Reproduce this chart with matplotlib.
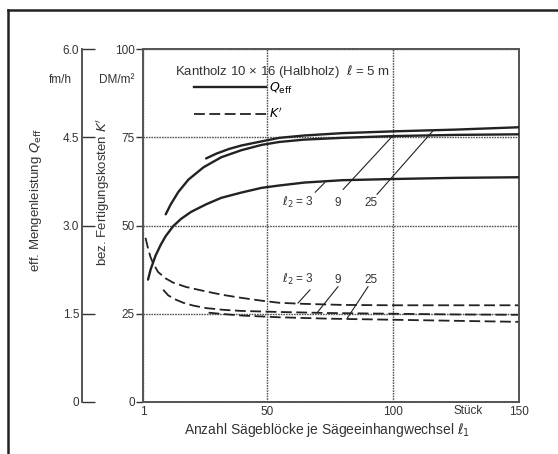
import matplotlib
matplotlib.use("Agg")
import matplotlib.pyplot as plt
from matplotlib.lines import Line2D

plt.rcParams["font.family"] = ["Liberation Sans", "DejaVu Sans"]
plt.rcParams["mathtext.fontset"] = "dejavusans"

# Q_eff (fm/h) je l2, über l1
q3_x = [3, 4, 6, 8, 10, 13, 16, 20, 26, 32, 40, 48, 55, 65, 80, 100, 125, 150]
q3_y = [2.08, 2.25, 2.49, 2.67, 2.82, 2.99, 3.11, 3.23, 3.36, 3.47, 3.56, 3.64,
        3.68, 3.73, 3.77, 3.79, 3.81, 3.82]
q9_x = [10, 12, 15, 19, 25, 32, 40, 48, 55, 65, 80, 100, 125, 150]
q9_y = [3.19, 3.36, 3.57, 3.78, 3.99, 4.16, 4.28, 4.37, 4.42, 4.46, 4.49, 4.52, 4.54, 4.55]
q25_x = [26, 30, 35, 40, 48, 55, 65, 80, 100, 125, 150]
q25_y = [4.14, 4.22, 4.30, 4.36, 4.43, 4.49, 4.53, 4.57, 4.60, 4.63, 4.67]

# K' (DM/m²) je l2
k3_x = [2, 3, 4, 5, 7, 10, 13, 18, 26, 33, 40, 48, 55, 65, 80, 100, 150]
k3_y = [46.5, 43.5, 41.0, 39.3, 36.8, 35.0, 33.8, 32.6, 31.3, 30.3, 29.5, 28.7,
        28.1, 27.8, 27.5, 27.4, 27.4]
k9_x = [9, 11, 14, 17, 21, 26, 33, 40, 55, 75, 100, 125, 150]
k9_y = [31.8, 30.2, 29.0, 28.1, 27.3, 26.6, 26.1, 25.8, 25.5, 25.2, 25.0, 24.8, 24.7]
k25_x = [27, 33, 40, 55, 75, 100, 125, 150]
k25_y = [25.3, 24.9, 24.5, 24.0, 23.6, 23.3, 23.0, 22.7]

x_ticks = [1, 50, 100, 150]
k_ticks = [0, 25, 50, 75, 100]
q_ticks = [0, 1.5, 3.0, 4.5, 6.0]
q_labels = ["0", "1.5", "3.0", "4.5", "6.0"]

INK = "#222222"
GRID = "#555555"
TXT = "#333333"
DOT = (0, (1.2, 0.7))

fig = plt.figure(figsize=(5.58, 4.54), dpi=100)
ax = fig.add_axes([143 / 558, 1 - 402 / 454, 376 / 558, 353 / 454])
ax.set_xlim(1, 150)
ax.set_ylim(0, 100)
ax.set_xticks(x_ticks)
ax.set_yticks(k_ticks)
ax.tick_params(axis="x", length=0, pad=3, labelsize=8.5, colors=TXT)
ax.tick_params(axis="y", length=5, width=1, pad=1, labelsize=8.5, colors=TXT)
for s in ax.spines.values():
    s.set_color(GRID); s.set_linestyle(DOT); s.set_linewidth(1.4)
ax.grid(True, color=GRID, ls=DOT, lw=1.0)
ax.text(130, -0.009, "Stück", transform=ax.get_xaxis_transform(),
        ha="center", va="top", fontsize=8.5, color=TXT)

ax2 = ax.twinx()
ax2.set_ylim(0, 6)
ax2.set_yticks(q_ticks, labels=q_labels)
for k in ["right", "top", "bottom"]:
    ax2.spines[k].set_visible(False)
ax2.spines["left"].set_visible(True)
ax2.spines["left"].set_position(("axes", (82 - 143) / 376))
ax2.spines["left"].set_color(GRID); ax2.spines["left"].set_linestyle(DOT)
ax2.spines["left"].set_linewidth(1.4)
ax2.yaxis.tick_left()
ax2.yaxis.set_label_position("left")
ax2.tick_params(axis="y", direction="in", length=9, width=1, pad=2,
                labelsize=8.5, colors=TXT)

# Kurven
for xs, ys in [(q3_x, q3_y), (q9_x, q9_y), (q25_x, q25_y)]:
    ax2.plot(xs, ys, color=INK, lw=1.7, solid_capstyle="round", solid_joinstyle="round")
for xs, ys in [(k3_x, k3_y), (k9_x, k9_y), (k25_x, k25_y)]:
    ax.plot(xs, ys, color=INK, lw=1.3, ls=(0, (6, 2.5)))

ax.set_ylabel("bez. Fertigungskosten $K'$", fontsize=9.5, color=TXT)
ax.yaxis.set_label_coords(-0.082, 0.595)
ax2.set_ylabel(r"eff. Mengenleistung $Q_\mathrm{eff}$", fontsize=9.5, color=TXT)
ax2.yaxis.set_label_coords(-0.263, 0.572)
ax.set_xlabel(r"Anzahl Sägeblöcke je Sägeeinhangwechsel $\ell_1$", fontsize=10, color=TXT)
ax.xaxis.set_label_coords(0.49, -0.055)

ax.text(-0.069, 0.912, "DM/m²", transform=ax.transAxes, ha="center", va="center",
        fontsize=8.5, color=TXT)
ax.text(-0.221, 0.912, "fm/h", transform=ax.transAxes, ha="center", va="center",
        fontsize=8.5, color=TXT)

# Legende
ax.text(0.085, 0.935, r"Kantholz 10 × 16 (Halbholz)  $\ell$ = 5 m", transform=ax.transAxes,
        ha="left", va="center", fontsize=9.5, color=TXT)
handles = [Line2D([], [], color=INK, lw=1.7), Line2D([], [], color=INK, lw=1.3, ls=(0, (6, 2.5)))]
ax.legend(handles, [r"$Q_\mathrm{eff}$", "$K'$"], loc="upper left",
          bbox_to_anchor=(0.135, 0.91), frameon=False, fontsize=9,
          handlelength=5.8, handletextpad=0.2, labelspacing=0.85, borderpad=0,
          borderaxespad=0)

# l2-Beschriftungen mit Hinweislinien
lead = dict(arrowstyle="-", color=INK, lw=0.8, shrinkA=0, shrinkB=0)
for txt, tx, ty, px, py in [("3", 69.2, 59.4, 73.1, 62.2), ("9", 80.3, 60.2, 99.7, 75.2),
                            ("25", 93.7, 58.8, 116, 76.9)]:
    ax.annotate("", xy=(px, py), xytext=(tx, ty), arrowprops=lead)
for txt, tx, ty, px, py in [("3", 67.2, 31.8, 62.4, 28.0), ("9", 78.3, 32.7, 70, 25.3),
                            ("25", 90.2, 32.7, 81.9, 23.7)]:
    ax.annotate("", xy=(px, py), xytext=(tx, ty), arrowprops=lead)
for y in (56.5, 34.7):
    ax.text(62.4, y, r"$\ell_2$ = 3", ha="center", va="center", fontsize=8.5, color=TXT)
    ax.text(78.3, y, "9", ha="center", va="center", fontsize=8.5, color=TXT)
    ax.text(91.5, y, "25", ha="center", va="center", fontsize=8.5, color=TXT)

# Rahmen
fig.add_artist(Line2D([8 / 558, 8 / 558], [0, 1 - 10 / 454], color=INK, lw=1.8))
fig.add_artist(Line2D([8 / 558, 1], [1 - 10 / 454, 1 - 10 / 454], color=INK, lw=1.8))

fig.savefig("out.png", dpi=100)
